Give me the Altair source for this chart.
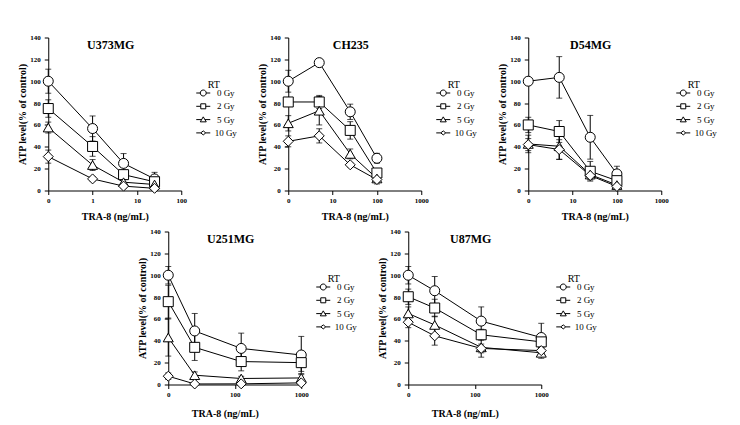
import json
import math
import altair as alt
import pandas as pd

DOSES = ["0 Gy", "2 Gy", "5 Gy", "10 Gy"]
LEGEND_TITLE = "RT"

# ---------------- data ----------------
U373MG_CONC = [0, 1, 5, 25]
U373MG_TICKS = ["0", "1", "10", "100"]
U373MG_MEAN = [[100, 56.7, 24.8, 10.6],
               [75, 40.3, 14.5, 8],
               [57.6, 23.3, 7.6, 5.5],
               [31, 10.6, 4, 2]]
U373MG_ERR = [[11, 11.5, 9, 6],
              [8, 9, 4, 3],
              [5, 5, 3, 2],
              [6, 2, 2, 1.5]]

CH235_CONC = [0, 5, 25, 100]
CH235_TICKS = ["0", "10", "100", "1000"]
CH235_MEAN = [[100, 117, 72, 29.5],
              [81, 81, 55, 16],
              [61.5, 73, 33.5, 11],
              [45, 50, 23.5, 10]]
CH235_ERR = [[10, 3, 7, 4.5],
             [4, 6, 8, 4],
             [7, 13, 4.5, 5],
             [5, 6.5, 2, 2]]

D54MG_CONC = [0, 5, 25, 100]
D54MG_TICKS = ["0", "10", "100", "1000"]
D54MG_MEAN = [[100, 103.5, 48.7, 15.2],
              [60, 54, 17.6, 9],
              [42.6, 40.5, 14.6, 5],
              [42, 37.5, 13.7, 3.7]]
D54MG_ERR = [[3, 19, 20, 7],
             [7, 10, 9, 3],
             [8, 12, 4, 2],
             [5.5, 9, 4, 2]]

U251MG_CONC = [0, 25, 125, 1000]
U251MG_TICKS = ["0", "100", "1000"]
U251MG_MEAN = [[100, 49, 33, 27],
               [75.8, 34, 21, 20],
               [43, 8.5, 5.5, 6],
               [7.6, 0.5, 0.6, 1.5]]
U251MG_ERR = [[8, 16, 14, 17],
              [15, 12, 8.5, 8],
              [17, 3, 2, 3],
              [3, 1, 1, 1]]

U87MG_CONC = [0, 25, 125, 1000]
U87MG_TICKS = ["0", "100", "1000"]
U87MG_MEAN = [[100, 85.8, 58, 43],
              [80.3, 70, 45.5, 39],
              [65, 54.5, 34, 29],
              [57, 44.5, 33, 31]]
U87MG_ERR = [[8, 13, 13, 13],
             [7, 8, 5, 5],
             [6, 8, 9, 5],
             [5, 8.5, 4, 3]]

# ---------------- styling ----------------
SERIF = "Liberation Serif"
PW, PH = 133, 153
MARKER_SHAPES = ["circle", "square", "triangle-up", "diamond"]
LEGEND_SHAPES = [
    "M-1.4,0H-0.6M0.6,0H1.4M0.6,0A0.6,0.6,0,1,1,-0.6,0A0.6,0.6,0,1,1,0.6,0Z",
    "M-1.4,0H-0.5M0.5,0H1.4M-0.5,-0.5H0.5V0.5H-0.5Z",
    "M-1.4,0H-0.33M0.33,0H1.4M0,-0.55L0.6,0.45H-0.6Z",
    "M-1.4,0H-0.5M0.5,0H1.4M0,-0.4L0.5,0L0,0.4L-0.5,0Z",
]


def panel(name, conc, means, errs, ticks, xtitle_shift=0, xtitle_pad=11):
    rows = []
    for i, dose in enumerate(DOSES):
        for j, c in enumerate(conc):
            rows.append({"dose": dose, "conc": c, "atp": means[i][j], "err": errs[i][j]})
    df = pd.DataFrame(rows)
    shift = 1 - math.log10(float(ticks[1]))
    n = len(ticks)
    base = alt.Chart(df).transform_calculate(
        pos=f"datum.conc == 0 ? 0 : log(datum.conc) / LN10 + ({shift})",
        lo="datum.atp - datum.err",
        hi="datum.atp + datum.err",
    )
    xaxis = alt.Axis(
        values=list(range(n)), labelExpr=f"{json.dumps(ticks)}[datum.value]",
        title="TRA-8 (ng/mL)", titleFont=SERIF, titleFontSize=10, titleFontWeight="bold",
        titleColor="black", titlePadding=xtitle_pad, titleX=PW / 2 + xtitle_shift,
        labelFont=SERIF, labelFontSize=7, labelFontWeight="bold", labelColor="black",
        labelPadding=2, tickSize=4, tickColor="black", domainColor="black", grid=False,
        labelFlush=False, labelOverlap=False,
    )
    yaxis = alt.Axis(
        values=list(range(0, 141, 20)), title="ATP level(% of control)",
        titleFont=SERIF, titleFontSize=10, titleFontWeight="bold", titleColor="black",
        titlePadding=2, labelFont=SERIF, labelFontSize=7, labelFontWeight="bold",
        labelColor="black", labelPadding=4, tickSize=4, tickColor="black",
        domainColor="black", grid=False, labelFlush=False, labelOverlap=False,
    )
    xs = alt.Scale(domain=[0, n - 1], nice=False, zero=False)
    ys = alt.Scale(domain=[0, 140], nice=False)

    def X():
        return alt.X("pos:Q", scale=xs, axis=xaxis)

    def Y(f):
        return alt.Y(f, scale=ys, axis=yaxis)

    rules = base.mark_rule(color="black", strokeWidth=1).encode(x=X(), y=Y("lo:Q"), y2="hi:Q")
    cap_lo = base.mark_tick(orient="horizontal", size=6, thickness=1, color="black").encode(x=X(), y=Y("lo:Q"))
    cap_hi = base.mark_tick(orient="horizontal", size=6, thickness=1, color="black").encode(x=X(), y=Y("hi:Q"))
    lines = base.mark_line(color="black", strokeWidth=1).encode(
        x=X(), y=Y("atp:Q"), detail="dose:N")
    pts = base.mark_point(filled=True, fill="white", stroke="black", strokeWidth=1,
                          size=100, opacity=1).encode(
        x=X(), y=Y("atp:Q"),
        shape=alt.Shape("dose:N", scale=alt.Scale(domain=DOSES, range=MARKER_SHAPES), legend=None))
    leg = base.transform_filter("false").mark_point(
        filled=False, color="black", strokeWidth=1, size=100, opacity=1).encode(
        x=X(), y=Y("atp:Q"),
        shape=alt.Shape("dose:N", scale=alt.Scale(domain=DOSES, range=LEGEND_SHAPES),
                        legend=alt.Legend(
                            title=None, orient="none", legendX=PW + 16.5, legendY=50,
                            labelFont=SERIF, labelFontSize=9,
                            labelColor="black", labelAlign="center", labelOffset=17,
                            symbolSize=100, symbolStrokeColor="black", symbolStrokeWidth=1,
                            symbolOpacity=1, rowPadding=2.3, padding=0)))
    text_df = pd.DataFrame({"name": [name], "rt": [LEGEND_TITLE]})
    ttl = alt.Chart(text_df).mark_text(
        font=SERIF, fontSize=12, fontWeight="bold", color="black",
        align="center", baseline="alphabetic").encode(
        text="name:N", x=alt.value(PW / 2 - 4), y=alt.value(11.5))
    rt = alt.Chart(text_df).mark_text(
        font=SERIF, fontSize=10, color="black",
        align="center", baseline="alphabetic").encode(
        text="rt:N", x=alt.value(PW + 32.5), y=alt.value(50.5))
    return alt.layer(rules, cap_lo, cap_hi, lines, pts, leg, ttl, rt).resolve_scale(
        shape="independent").properties(width=PW, height=PH)


p1 = panel("U373MG", U373MG_CONC, U373MG_MEAN, U373MG_ERR, U373MG_TICKS, 0, 8)
p2 = panel("CH235", CH235_CONC, CH235_MEAN, CH235_ERR, CH235_TICKS, 0, 8)
p3 = panel("D54MG", D54MG_CONC, D54MG_MEAN, D54MG_ERR, D54MG_TICKS, 0, 8)
p4 = panel("U251MG", U251MG_CONC, U251MG_MEAN, U251MG_ERR, U251MG_TICKS, -10, 11)
p5 = panel("U87MG", U87MG_CONC, U87MG_MEAN, U87MG_ERR, U87MG_TICKS, -10, 11)

top = alt.hconcat(p1, p2, p3, spacing=107, bounds="flush").resolve_scale(
    x="independent", y="independent", shape="independent").resolve_legend(shape="independent")
bottom = alt.hconcat(p4, p5, spacing=107, bounds="flush").resolve_scale(
    x="independent", y="independent", shape="independent").resolve_legend(shape="independent")

chart = alt.vconcat(top, bottom, spacing=6, center=True).resolve_scale(
    x="independent", y="independent", shape="independent").resolve_legend(
    shape="independent").properties(
    padding={"left": 9, "top": 25.5, "right": 5, "bottom": 5},
    background="white",
).configure_view(stroke=None)

chart.save("out.html", embed_options={"renderer": "svg", "actions": False})
